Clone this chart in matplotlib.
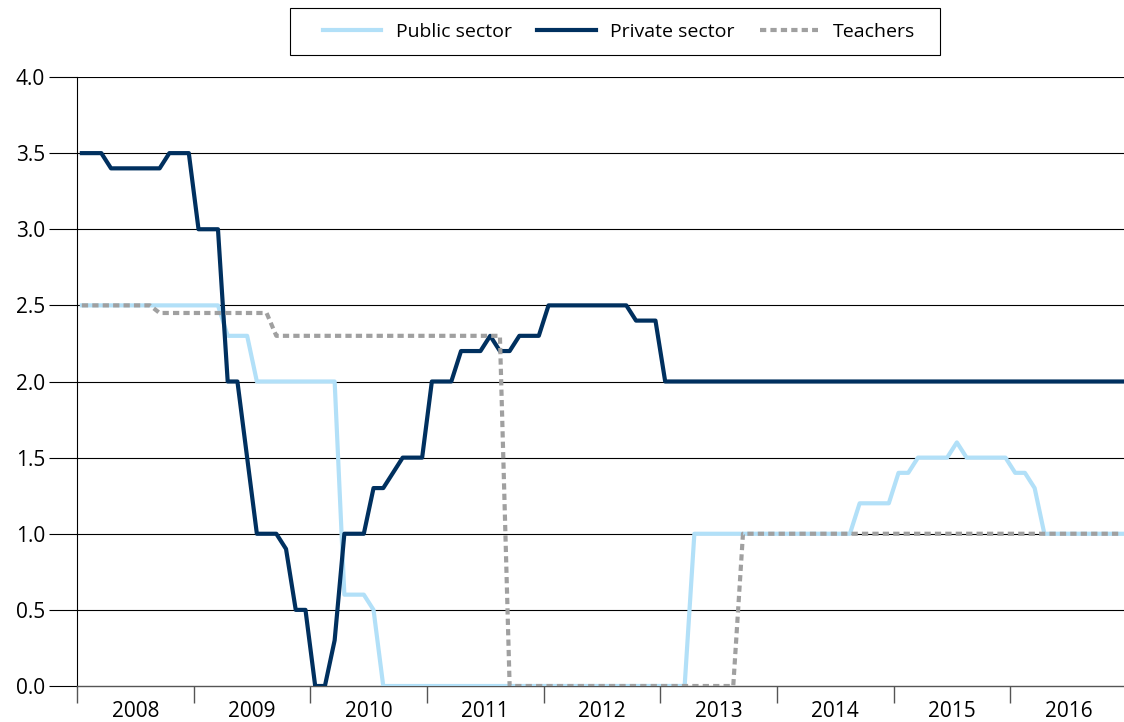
import numpy as np
import matplotlib
matplotlib.use('Agg')
import matplotlib.pyplot as plt
from matplotlib.patches import Rectangle

plt.rcParams['font.family'] = ['Open Sans', 'DejaVu Sans']

years = ["2008", "2009", "2010", "2011", "2012", "2013", "2014", "2015", "2016"]

# monthly values, one row per year
public = [
    2.5, 2.5, 2.5, 2.5, 2.5, 2.5, 2.5, 2.5, 2.5, 2.5, 2.5, 2.5,
    2.5, 2.5, 2.5, 2.3, 2.3, 2.3, 2.0, 2.0, 2.0, 2.0, 2.0, 2.0,
    2.0, 2.0, 2.0, 0.6, 0.6, 0.6, 0.5, 0.0, 0.0, 0.0, 0.0, 0.0,
    0.0, 0.0, 0.0, 0.0, 0.0, 0.0, 0.0, 0.0, 0.0, 0.0, 0.0, 0.0,
    0.0, 0.0, 0.0, 0.0, 0.0, 0.0, 0.0, 0.0, 0.0, 0.0, 0.0, 0.0,
    0.0, 0.0, 0.0, 1.0, 1.0, 1.0, 1.0, 1.0, 1.0, 1.0, 1.0, 1.0,
    1.0, 1.0, 1.0, 1.0, 1.0, 1.0, 1.0, 1.0, 1.2, 1.2, 1.2, 1.2,
    1.4, 1.4, 1.5, 1.5, 1.5, 1.5, 1.6, 1.5, 1.5, 1.5, 1.5, 1.5,
    1.4, 1.4, 1.3, 1.0, 1.0, 1.0, 1.0, 1.0, 1.0, 1.0, 1.0, 1.0,
]
private = [
    3.5, 3.5, 3.5, 3.4, 3.4, 3.4, 3.4, 3.4, 3.4, 3.5, 3.5, 3.5,
    3.0, 3.0, 3.0, 2.0, 2.0, 1.5, 1.0, 1.0, 1.0, 0.9, 0.5, 0.5,
    0.0, 0.0, 0.3, 1.0, 1.0, 1.0, 1.3, 1.3, 1.4, 1.5, 1.5, 1.5,
    2.0, 2.0, 2.0, 2.2, 2.2, 2.2, 2.3, 2.2, 2.2, 2.3, 2.3, 2.3,
    2.5, 2.5, 2.5, 2.5, 2.5, 2.5, 2.5, 2.5, 2.5, 2.4, 2.4, 2.4,
    2.0, 2.0, 2.0, 2.0, 2.0, 2.0, 2.0, 2.0, 2.0, 2.0, 2.0, 2.0,
    2.0, 2.0, 2.0, 2.0, 2.0, 2.0, 2.0, 2.0, 2.0, 2.0, 2.0, 2.0,
    2.0, 2.0, 2.0, 2.0, 2.0, 2.0, 2.0, 2.0, 2.0, 2.0, 2.0, 2.0,
    2.0, 2.0, 2.0, 2.0, 2.0, 2.0, 2.0, 2.0, 2.0, 2.0, 2.0, 2.0,
]
teachers = [
    2.5, 2.5, 2.5, 2.5, 2.5, 2.5, 2.5, 2.5, 2.45, 2.45, 2.45, 2.45,
    2.45, 2.45, 2.45, 2.45, 2.45, 2.45, 2.45, 2.45, 2.3, 2.3, 2.3, 2.3,
    2.3, 2.3, 2.3, 2.3, 2.3, 2.3, 2.3, 2.3, 2.3, 2.3, 2.3, 2.3,
    2.3, 2.3, 2.3, 2.3, 2.3, 2.3, 2.3, 2.3, 0.0, 0.0, 0.0, 0.0,
    0.0, 0.0, 0.0, 0.0, 0.0, 0.0, 0.0, 0.0, 0.0, 0.0, 0.0, 0.0,
    0.0, 0.0, 0.0, 0.0, 0.0, 0.0, 0.0, 0.0, 1.0, 1.0, 1.0, 1.0,
    1.0, 1.0, 1.0, 1.0, 1.0, 1.0, 1.0, 1.0, 1.0, 1.0, 1.0, 1.0,
    1.0, 1.0, 1.0, 1.0, 1.0, 1.0, 1.0, 1.0, 1.0, 1.0, 1.0, 1.0,
    1.0, 1.0, 1.0, 1.0, 1.0, 1.0, 1.0, 1.0, 1.0, 1.0, 1.0, 1.0,
]

months = np.arange(len(private))

fig = plt.figure(figsize=(11.24, 7.22), dpi=100)
ax = fig.add_axes([77/1124, 36/722, (1127 - 77)/1124, 609/722])

ax.plot(months, public, color="#b2e0f8", lw=3, label="Public sector", zorder=3)
ax.plot(months, private, color="#00305f", lw=3, label="Private sector", zorder=4)
ax.plot(months, teachers, color="#a0a0a0", lw=3, linestyle=(0, (1.5, 1)),
        label="Teachers", zorder=5)

ax.set_xlim(-0.5, len(months) - 0.5)
ax.set_ylim(0, 4)

yt = np.arange(0, 4.01, 0.5)
ax.set_yticks(yt)
ax.set_yticklabels(["{:.1f}".format(v) for v in yt], fontsize=15)
ax.tick_params(axis='y', length=20, width=0.8, color='black', pad=3)
for v in yt[1:]:
    ax.axhline(v, color='black', lw=0.8, zorder=1)

ax.set_xticks(np.arange(-0.5, len(months), 12))
ax.set_xticklabels([])
ax.set_xticks(np.arange(5.5, len(months), 12), minor=True)
ax.set_xticklabels(years, minor=True, fontsize=15)
ax.tick_params(axis='x', which='major', length=12, width=1, color='#555555')
ax.tick_params(axis='x', which='minor', length=0, pad=11)

for s in ['top', 'right']:
    ax.spines[s].set_visible(False)
ax.spines['left'].set_color('black')
ax.spines['left'].set_linewidth(0.8)
ax.spines['bottom'].set_color('#555555')
ax.spines['bottom'].set_linewidth(1)

# legend box drawn separately so the padding matches
fig.patches.append(Rectangle((290/1124, (722 - 55)/722), 650/1124, 47/722,
                             transform=fig.transFigure, fill=False,
                             edgecolor='black', lw=0.8))
fig.legend(loc='center', bbox_to_anchor=(619/1124, 690/722), ncol=3,
           fontsize=14, frameon=False, handlelength=3.0,
           handletextpad=0.75, columnspacing=1.3)

fig.savefig("out.png", dpi=100)
